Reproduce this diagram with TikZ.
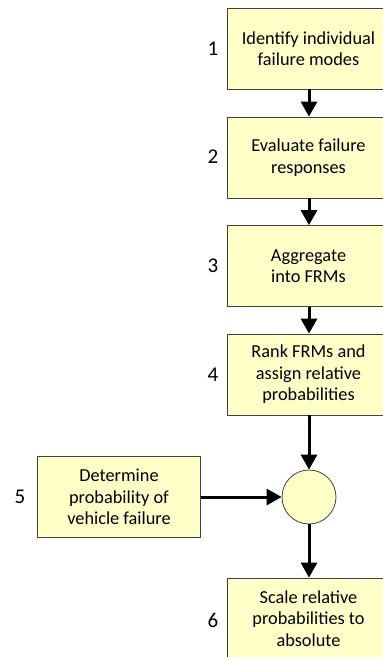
\documentclass[tikz,border=0pt]{standalone}
\usepackage{fontspec}
\setmainfont{Carlito}
\usetikzlibrary{arrows.meta}
\definecolor{boxfill}{HTML}{FFFFC8}
\definecolor{boxline}{HTML}{404040}
\tikzset{
  stepbox/.style={draw=boxline, line width=0.8pt, fill=boxfill, minimum width=163pt, minimum height=81pt, align=center, font=\fontsize{18.3}{21.5}\selectfont, inner sep=0pt},
  joinc/.style={draw=boxline, line width=0.8pt, fill=boxfill, circle, minimum size=54pt, inner sep=0pt},
  numlbl/.style={font=\fontsize{21}{22}\selectfont, inner sep=0pt},
  flow/.style={line width=3pt, -{Triangle[length=15pt,width=16pt]}}
}
\begin{document}
\begin{tikzpicture}[x=1pt,y=-1pt]
\useasboundingbox (0,0) rectangle (383,657);
\node[stepbox] (b1) at (308.5,48.5) {Identify individual\\failure modes};
\node[stepbox] (b2) at (308.5,157.5) {Evaluate failure\\responses};
\node[stepbox] (b3) at (308.5,266) {Aggregate\\into FRMs};
\node[stepbox] (b4) at (308.5,374.5) {Rank FRMs and\\assign relative\\probabilities};
\node[joinc] (c) at (309,497) {};
\node[stepbox] (b5) at (119,497) {Determine\\probability of\\vehicle failure};
\node[stepbox] (b6) at (308.5,618.5) {Scale relative\\probabilities to\\absolute};
\node[numlbl] (n1) at (213,49) {1};
\node[numlbl] (n2) at (213,157) {2};
\node[numlbl] (n3) at (213,266) {3};
\node[numlbl] (n4) at (213,375) {4};
\node[numlbl] (n5) at (20,497) {5};
\node[numlbl] (n6) at (213,620) {6};
\draw[flow] (b1.south -| c) -- (b2.north -| c);
\draw[flow] (b2.south -| c) -- (b3.north -| c);
\draw[flow] (b3.south -| c) -- (b4.north -| c);
\draw[flow] (b4.south -| c) -- (c.north);
\draw[flow] (b5.east) -- (c.west);
\draw[flow] (c.south) -- (b6.north -| c);
\end{tikzpicture}
\end{document}
